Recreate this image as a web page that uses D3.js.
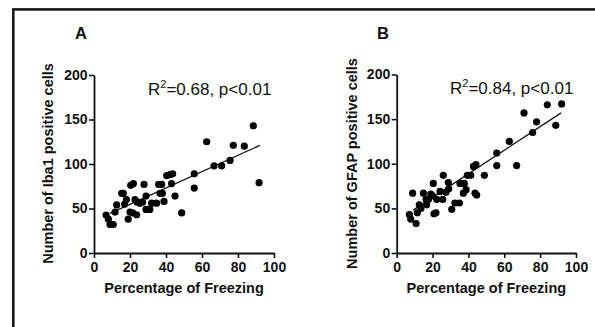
<!DOCTYPE html>
<html>
<head>
<meta charset="utf-8">
<script src="https://cdn.jsdelivr.net/npm/d3@7"></script>
<style>
  html, body { margin: 0; padding: 0; background: #fff; }
  svg { display: block; }
  text { font-family: "Liberation Sans", Arial, sans-serif; fill: #111; }
</style>
</head>
<body>
<svg id="chart" width="595" height="327"></svg>
<script>
// ---- Data ----
const xTicks = [0, 20, 40, 60, 80, 100];
const yTicks = [0, 50, 100, 150, 200];

// Panel A: Iba1
const freezeA = [6.7, 8, 8.9, 10.7, 11.7, 12.6, 15.4, 16.3, 18, 19, 20.4, 21.9, 20, 21.5, 23.7, 22.8, 25.6, 27, 27.8, 28.9, 28.9, 31, 32, 34.8, 35.9, 37.6, 36.7, 38, 38.9, 40.4, 42.2, 43.7, 43.1, 45, 48.7, 55.7, 55.7, 62.6, 66.7, 70.9, 75.6, 77.4, 83.5, 88.5, 91.7, 17, 24];
const iba1A   = [42.7, 38, 32, 32, 46, 54, 67, 67, 60, 38, 76, 78, 46, 45, 43, 60, 56, 57, 77, 64, 49, 49, 56, 56, 77, 77, 67, 67, 58, 87, 88, 89, 78, 64, 45, 89, 73, 125, 98, 98, 104, 121, 120, 143, 79, 55, 57];
const lineAx = [8.9, 92.2];
const lineAy = [44.6, 121];

// Panel B: GFAP
const freezeB = [7.1, 7.8, 8.9, 10.8, 11.5, 12.6, 14.9, 16.4, 17.7, 16.7, 19, 20.4, 20, 20.8, 21.9, 22.3, 24.2, 26, 25.7, 27.5, 28.8, 30.7, 32.5, 35, 35.3, 36.4, 37.2, 37.7, 38.7, 39.4, 41.3, 42.8, 44.2, 43.7, 44.6, 48.9, 55.8, 55.8, 62.8, 66.9, 71, 75.8, 78, 84, 88.7, 92, 13.5, 29];
const gfapB   = [43, 38, 67, 33, 45, 54, 67, 60, 60, 54, 66, 78, 64, 44, 45, 60, 69, 87, 60, 68, 79, 49, 56, 56, 78, 78, 67, 78, 71, 87, 87, 97, 99, 67, 65, 87, 112, 98, 125, 98, 157, 135, 147, 166, 143, 167, 50, 72];
const lineBx = [9.2, 91.7];
const lineBy = [48, 157];

const panelLabels = ["A", "B"];
const yTitles = ["Number of Iba1 positive cells", "Number of GFAP positive cells"];
const xTitle = "Percentage of Freezing";
const stats = [["0.68", "p<0.01"], ["0.84", "p<0.01"]];

// ---- Drawing ----
const svg = d3.select("#chart");

// outer frame (clipped at right/bottom like the reference)
svg.append("rect")
  .attr("x", 13.3).attr("y", 9.4)
  .attr("width", 700).attr("height", 500)
  .attr("fill", "none").attr("stroke", "#1a1a1a").attr("stroke-width", 2.6);

const panels = [
  { x0: 94, x1: 274, y0: 253, y1: 75, xs: freezeA, ys: iba1A, lx: lineAx, ly: lineAy,
    labelX: 75, labelY: 38.5, ytX: 53, statX: 148, statY: 94.5 },
  { x0: 396.7, x1: 576, y0: 253, y1: 74.5, xs: freezeB, ys: gfapB, lx: lineBx, ly: lineBy,
    labelX: 377, labelY: 38.8, ytX: 357, statX: 450, statY: 93.5 }
];

panels.forEach((p, i) => {
  const x = d3.scaleLinear().domain([0, 100]).range([p.x0, p.x1]);
  const y = d3.scaleLinear().domain([0, 200]).range([p.y0, p.y1]);
  const g = svg.append("g");

  // x axis
  const xa = g.append("g").attr("transform", `translate(0,${p.y0})`)
    .call(d3.axisBottom(x).tickValues(xTicks).tickSize(5).tickSizeOuter(0).tickPadding(4));
  // y axis
  const ya = g.append("g").attr("transform", `translate(${p.x0},0)`)
    .call(d3.axisLeft(y).tickValues(yTicks).tickSize(5).tickSizeOuter(0).tickPadding(1.5));

  [xa, ya].forEach(a => {
    a.select(".domain").attr("stroke", "#111").attr("stroke-width", 1.8);
    a.selectAll(".tick line").attr("stroke", "#111").attr("stroke-width", 1.6);
    a.selectAll(".tick text")
      .attr("font-family", '"Liberation Sans", Arial, sans-serif')
      .attr("font-size", 14).attr("font-weight", "bold").attr("fill", "#111");
  });

  // regression line
  g.append("line")
    .attr("x1", x(p.lx[0])).attr("y1", y(p.ly[0]))
    .attr("x2", x(p.lx[1])).attr("y2", y(p.ly[1]))
    .attr("stroke", "#111").attr("stroke-width", 1.3);

  // points
  g.selectAll("circle.pt")
    .data(p.xs.map((v, k) => [v, p.ys[k]]))
    .join("circle")
    .attr("class", "pt")
    .attr("cx", d => x(d[0])).attr("cy", d => y(d[1]))
    .attr("r", 3.6).attr("fill", "#000");

  // panel letter
  g.append("text").attr("x", p.labelX).attr("y", p.labelY)
    .attr("font-size", 16.5).attr("font-weight", "bold").text(panelLabels[i]);

  // axis titles
  g.append("text")
    .attr("x", (p.x0 + p.x1) / 2).attr("y", 293.3)
    .attr("text-anchor", "middle").attr("font-size", 14.5).attr("font-weight", "bold")
    .text(xTitle);
  g.append("text")
    .attr("transform", `translate(${p.ytX},163.5) rotate(-90)`)
    .attr("text-anchor", "middle").attr("font-size", 14.5).attr("font-weight", "bold")
    .text(yTitles[i]);

  // statistics
  const st = g.append("text").attr("x", p.statX).attr("y", p.statY).attr("font-size", 17);
  st.append("tspan").text("R");
  st.append("tspan").attr("font-size", 11).attr("dy", -7).text("2");
  st.append("tspan").attr("dy", 7).text(`=${stats[i][0]}, ${stats[i][1]}`);
});
</script>
</body>
</html>
